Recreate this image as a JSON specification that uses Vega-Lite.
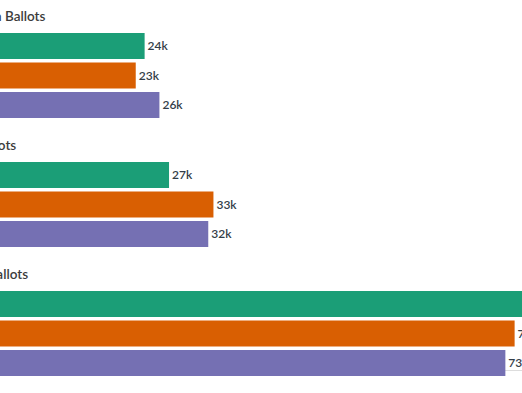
{
  "$schema": "https://vega.github.io/schema/vega-lite/v6.json",
  "padding": {"left": -31.5, "right": -38.5, "top": 9, "bottom": 0},
  "data": {
    "values": [
      {"group": "Open Ballots", "series": "2016", "ballots": 23800},
      {"group": "Open Ballots", "series": "2020", "ballots": 22600},
      {"group": "Open Ballots", "series": "2024", "ballots": 25800},
      {"group": "I Ballots", "series": "2016", "ballots": 27100},
      {"group": "I Ballots", "series": "2020", "ballots": 33100},
      {"group": "I Ballots", "series": "2024", "ballots": 32400},
      {"group": "All Ballots", "series": "2016", "ballots": 76500},
      {"group": "All Ballots", "series": "2020", "ballots": 73800},
      {"group": "All Ballots", "series": "2024", "ballots": 72550}
    ]
  },
  "facet": {
    "field": "group",
    "type": "nominal",
    "sort": ["Open Ballots", "I Ballots", "All Ballots"],
    "header": {
      "title": null,
      "labelAnchor": "start",
      "labelAlign": "left",
      "labelAngle": 0,
      "labelFont": "Lato",
      "labelFontSize": 13.5,
      "labelFontWeight": 600,
      "labelColor": "#3c3c3c",
      "labelPadding": -4
    }
  },
  "columns": 1,
  "spacing": 20,
  "spec": {
    "width": 592,
    "height": 85,
    "encoding": {
      "y": {"field": "series", "type": "nominal", "axis": null,
            "scale": {"paddingInner": 0.12, "paddingOuter": 0}},
      "x": {"field": "ballots", "type": "quantitative",
            "scale": {"domain": [0, 80000], "nice": false},
            "axis": {"orient": "bottom", "title": null, "labels": false, "ticks": false, "grid": false,
                     "domain": true, "domainColor": "#dddddd", "domainWidth": 1, "offset": -6}}
    },
    "layer": [
      {"mark": {"type": "bar"},
       "encoding": {"color": {"field": "series", "type": "nominal",
                              "scale": {"range": ["#1b9e77", "#d95f02", "#7570b3"]},
                              "legend": null}}},
      {"mark": {"type": "text", "align": "left", "dx": 3, "font": "Lato", "fontSize": 12, "fontWeight": 600, "color": "#333d47"},
       "encoding": {"text": {"field": "ballots", "type": "quantitative", "format": ".2s"}}}
    ]
  },
  "config": {"view": {"stroke": null}}
}
